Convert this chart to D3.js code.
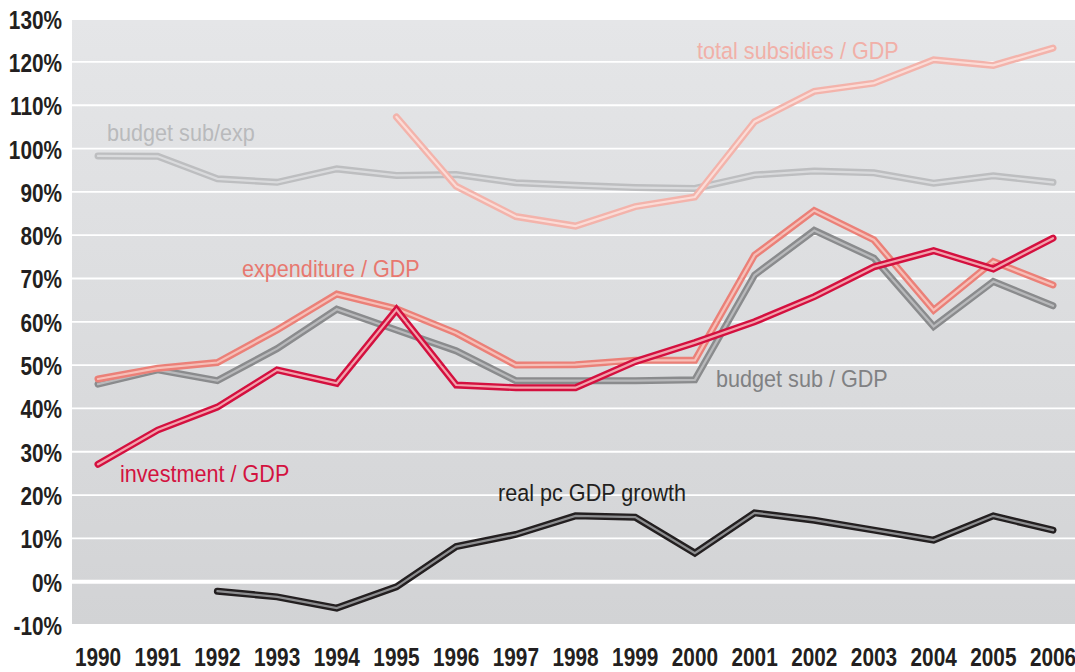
<!DOCTYPE html>
<html>
<head>
<meta charset="utf-8">
<script src="https://cdn.jsdelivr.net/npm/d3@7"></script>
<style>
html,body{margin:0;padding:0;background:#fff;}
svg{display:block;}
</style>
</head>
<body>
<svg id="chart" width="1075" height="672"></svg>
<script>
const years = [1990,1991,1992,1993,1994,1995,1996,1997,1998,1999,2000,2001,2002,2003,2004,2005,2006];
const yTicks = [-10,0,10,20,30,40,50,60,70,80,90,100,110,120,130];

const budgetSubExp   = [98.3,98.2,93.0,92.2,95.3,93.8,94.0,92.1,91.5,91.0,90.8,93.9,94.8,94.4,92.0,93.7,92.2];
const totalSubsidies = [null,null,null,null,null,107.3,91.3,84.3,82.1,86.6,88.8,106.2,113.2,115.1,120.5,119.2,123.2];
const budgetSubGDP   = [45.6,48.9,46.4,53.8,62.9,58.1,53.3,46.4,46.4,46.4,46.6,70.8,81.1,74.7,58.9,69.3,63.7];
const expenditureGDP = [46.8,49.3,50.6,58.1,66.4,63.0,57.4,50.0,50.1,51.1,51.1,75.4,85.7,78.9,62.7,73.9,68.5];
const investmentGDP  = [27.1,35.0,40.3,48.9,45.8,62.8,45.4,44.8,44.8,50.8,55.2,60.0,65.8,72.7,76.4,72.2,79.3];
const realPcGDPgrowth= [null,null,-2.2,-3.5,-6.1,-1.2,8.1,10.9,15.2,14.9,6.6,15.9,14.2,11.9,9.6,15.2,11.9];

const series = [
  {name:"budget sub/exp",        values:budgetSubExp,    outer:"#bdbec0", inner:"#dadbdd", label:{x:107,y:141,color:"#b9babc"}},
  {name:"total subsidies / GDP", values:totalSubsidies,  outer:"#f3b3ab", inner:"#fbdcd7", label:{x:697,y:59,color:"#f1b0a8"}},
  {name:"budget sub / GDP",      values:budgetSubGDP,    outer:"#8a8b8d", inner:"#b8b9bb", label:{x:716,y:387,color:"#808183"}},
  {name:"expenditure / GDP",     values:expenditureGDP,  outer:"#eb8078", inner:"#f6bfb8", label:{x:242,y:277,color:"#e8786f"}},
  {name:"investment / GDP",      values:investmentGDP,   outer:"#d4103f", inner:"#f2a3ad", label:{x:120,y:482,color:"#d3123f"}},
  {name:"real pc GDP growth",    values:realPcGDPgrowth, outer:"#231f20", inner:"#8e8f91", label:{x:498,y:501,color:"#231f20"}}
];

const svg = d3.select("#chart");
const plot = {left:72, right:1075, top:20, bottom:624};

const x = d3.scaleLinear().domain([1990,2006]).range([98,1053]);
const y = d3.scaleLinear().domain([-10,130]).range([625,18.6]);

const defs = svg.append("defs");
const grad = defs.append("linearGradient").attr("id","bg").attr("x1",0).attr("y1",0).attr("x2",0).attr("y2",1);
grad.append("stop").attr("offset","0%").attr("stop-color","#e5e6e8");
grad.append("stop").attr("offset","100%").attr("stop-color","#d2d3d5");

svg.append("rect").attr("x",plot.left).attr("y",plot.top)
  .attr("width",plot.right-plot.left).attr("height",plot.bottom-plot.top)
  .attr("fill","url(#bg)");

// gridlines
svg.append("g").selectAll("line").data(yTicks.filter(d=>d>-10 && d<130)).join("line")
  .attr("x1",plot.left).attr("x2",plot.right)
  .attr("y1",d=>y(d)).attr("y2",d=>y(d))
  .attr("stroke","#ffffff")
  .attr("stroke-width",d=>d===0?4:1.8);

// condensed bold tick labels (horizontal squeeze of a bold sans)
const tickFont = "'Liberation Sans',Arial,sans-serif";
const squeeze = 0.8;
svg.append("g").selectAll("text").data(yTicks).join("text")
  .attr("transform",d=>`translate(62,${y(d)+10}) scale(${squeeze},1)`)
  .attr("text-anchor","end")
  .attr("font-family",tickFont).attr("font-weight","bold").attr("font-size",26)
  .attr("fill","#231f20")
  .text(d=>d+"%");

svg.append("g").selectAll("text").data(years).join("text")
  .attr("transform",d=>`translate(${x(d)},666) scale(${squeeze},1)`)
  .attr("text-anchor","middle")
  .attr("font-family",tickFont).attr("font-weight","bold").attr("font-size",26)
  .attr("fill","#231f20")
  .text(d=>d);

const line = d3.line()
  .defined(d=>d.v!==null)
  .x(d=>x(d.year)).y(d=>y(d.v));

const lines = svg.append("g");
series.forEach(s=>{
  const pts = years.map((yr,i)=>({year:yr,v:s.values[i]}));
  lines.append("path").datum(pts).attr("d",line)
    .attr("fill","none").attr("stroke",s.outer).attr("stroke-width",7)
    .attr("stroke-linejoin","miter").attr("stroke-linecap","round");
  lines.append("path").datum(pts).attr("d",line)
    .attr("fill","none").attr("stroke",s.inner).attr("stroke-width",2.2)
    .attr("stroke-linejoin","miter").attr("stroke-linecap","round");
});

// series labels
svg.append("g").selectAll("text").data(series).join("text")
  .attr("transform",d=>`translate(${d.label.x},${d.label.y}) scale(0.92,1)`)
  .attr("font-family","'Liberation Sans',Arial,sans-serif").attr("font-size",23.5)
  .attr("fill",d=>d.label.color)
  .text(d=>d.name);
</script>
</body>
</html>
